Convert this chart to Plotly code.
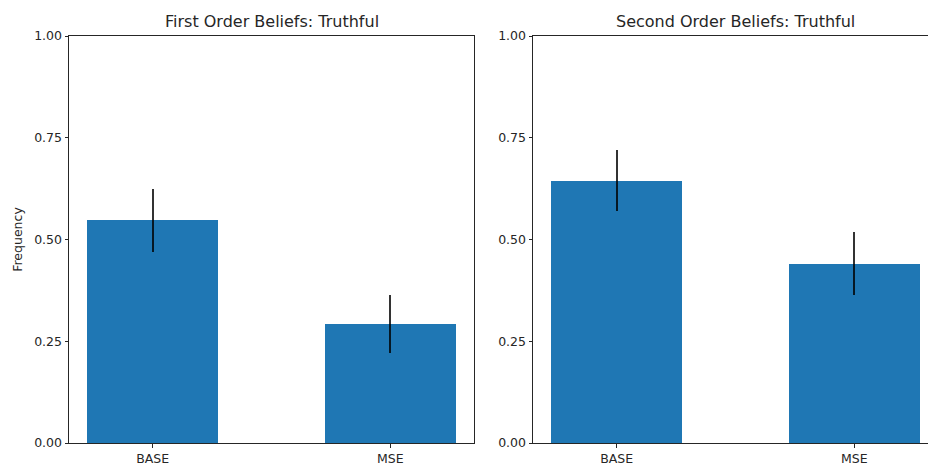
import plotly.graph_objects as go
from plotly.subplots import make_subplots

# Data
categories = ["BASE", "MSE"]
first_order = [0.547, 0.2925]
first_order_err = [0.078, 0.071]
second_order = [0.644, 0.4405]
second_order_err = [0.075, 0.0775]
titles = ["First Order Beliefs: Truthful", "Second Order Beliefs: Truthful"]
y_ticks = [0.0, 0.25, 0.5, 0.75, 1.0]
y_tick_labels = ["0.00", "0.25", "0.50", "0.75", "1.00"]

W, H = 928, 465
L, R, T, B = 69, 0, 36, 21.5
plot_w = W - L - R
ax_w = 405  # width of one axes in px
gap = 59    # gap between axes in px

bar_color = "#1f77b4"
ink = "#262626"
font_family = "DejaVu Sans"
tick_size = 12.5
title_size = 16

fig = make_subplots(rows=1, cols=2)

x_idx = list(range(len(categories)))
for col, (vals, errs) in enumerate([(first_order, first_order_err),
                                    (second_order, second_order_err)], start=1):
    fig.add_trace(go.Bar(
        x=x_idx, y=vals, width=0.55,
        marker=dict(color=bar_color, line=dict(width=0)),
        error_y=dict(type="data", array=errs, visible=True,
                     color="rgba(0,0,0,0.8)", thickness=2, width=0),
        showlegend=False,
    ), row=1, col=col)

# x ranges: full axes span [-0.3525, 1.3525]; the second axes runs past the page edge
x0, x1 = -0.3525, 1.3525
px_per_unit = ax_w / (x1 - x0)
d1 = [0, ax_w / plot_w]
d2 = [(ax_w + gap) / plot_w, 1]
right_w = plot_w - (ax_w + gap)
x1_cut = x0 + right_w / px_per_unit

axis_common = dict(showline=True, linecolor=ink, linewidth=1, ticks="outside",
                   ticklen=3.5, tickcolor=ink, tickwidth=1,
                   tickfont=dict(family=font_family, size=tick_size, color=ink),
                   showgrid=False, zeroline=False)

fig.update_xaxes(**axis_common, tickvals=x_idx, ticktext=categories)
fig.update_yaxes(**axis_common, range=[0, 1], tickvals=y_ticks, ticktext=y_tick_labels)

fig.update_layout(
    xaxis=dict(domain=d1, range=[x0, x1], mirror=True),
    yaxis=dict(mirror=True,
               title=dict(text="Frequency", standoff=8,
                          font=dict(family=font_family, size=tick_size, color=ink))),
    xaxis2=dict(domain=d2, range=[x0, x1_cut], mirror=True),
    yaxis2=dict(mirror=False),
)

# Subplot titles centred over each full axes
centers = [(ax_w / 2) / plot_w, (ax_w + gap + ax_w / 2) / plot_w]
for text, cx in zip(titles, centers):
    fig.add_annotation(text=text, x=cx, xref="paper", xanchor="center",
                       y=1, yref="paper", yanchor="bottom", yshift=3,
                       showarrow=False,
                       font=dict(family=font_family, size=title_size, color=ink))

fig.update_layout(
    width=W, height=H,
    margin=dict(l=L, r=R, t=T, b=B, pad=0),
    plot_bgcolor="white", paper_bgcolor="white",
    bargap=0,
)

fig.write_html("out.html")
